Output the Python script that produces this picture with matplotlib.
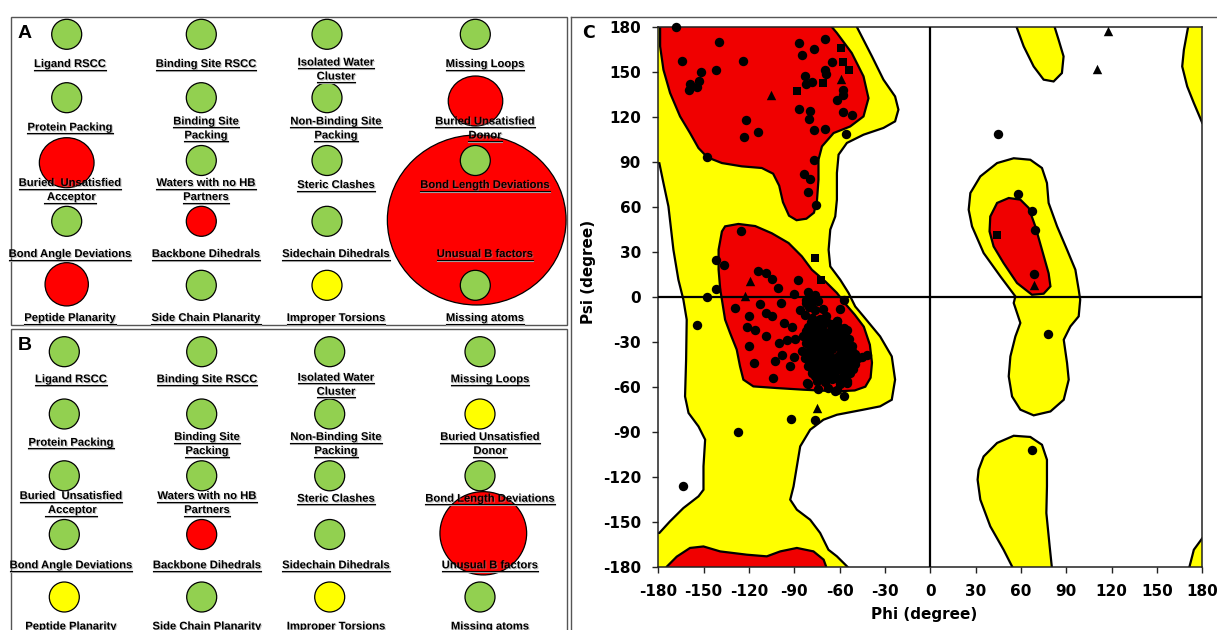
import matplotlib
matplotlib.use("Agg")
import numpy as np
import matplotlib.pyplot as plt
import matplotlib.patheffects as pe
from matplotlib.patches import Ellipse, Rectangle, Polygon

# ---------------------------------------------------------------------------
# Data: panels A and B (validation report traffic lights)
# ---------------------------------------------------------------------------
metric_labels = [
    ["Ligand RSCC", "Binding Site RSCC", "Isolated Water\nCluster", "Missing Loops"],
    ["Protein Packing", "Binding Site\nPacking", "Non-Binding Site\nPacking", "Buried Unsatisfied\nDonor"],
    ["Buried  Unsatisfied\n Acceptor", "Waters with no HB\nPartners", "Steric Clashes", "Bond Length Deviations"],
    ["Bond Angle Deviations", "Backbone Dihedrals", "Sidechain Dihedrals", "Unusual B factors"],
    ["Peptide Planarity", "Side Chain Planarity", "Improper Torsions", "Missing atoms"],
]
status_a = [
    ["g", "g", "g", "g"],
    ["g", "g", "g", "r"],
    ["r", "g", "g", "g"],
    ["g", "r", "g", "r"],
    ["r", "g", "y", "g"],
]
status_b = [
    ["g", "g", "g", "g"],
    ["g", "g", "g", "y"],
    ["g", "g", "g", "g"],
    ["g", "r", "g", "r"],
    ["y", "g", "y", "g"],
]
# enlarged markers: (row, col) -> (width, height) in px
big_a = {(1, 3): (54.5, 50.0), (2, 0): (54.7, 50.0), (3, 3): (178.7, 170.0), (4, 0): (43.3, 43.3)}
big_b = {(3, 3): (86.7, 83.3)}

# ---------------------------------------------------------------------------
# Data: panel C (Ramachandran plot), (phi, psi) in degrees
# ---------------------------------------------------------------------------
allowed_main = [
    (-182, 182), (-49.7, 182), (-38.6, 160.2), (-31, 144.7), (-23.3, 133.5), (-21.1, 124.7),
    (-23.3, 116.9), (-31, 112.5), (-44.2, 108), (-55.2, 102.5), (-60.7, 94.7), (-61.8, 82.5),
    (-61.8, 64.7), (-62.9, 53.5), (-66.2, 44.7), (-67.3, 31.3), (-66.2, 20.2), (-59.6, 11.3),
    (-54.1, 2.5), (-49.7, -6.5), (-44.2, -13.1), (-33.2, -26.5), (-25.5, -39.8), (-23.3, -55.3),
    (-25.5, -68.7), (-33.2, -73.1), (-44.2, -75.3), (-61.8, -78.7), (-70.7, -82), (-79.5, -88.7),
    (-86.1, -99.8), (-88.3, -113.1), (-90.5, -126.5), (-92.7, -135.3), (-88.3, -142), (-79.5, -148.7),
    (-72.9, -157.5), (-67.4, -168.7), (-61.8, -173.1), (-52.9, -182), (-182, -182), (-182, -157.5),
    (-179.3, -157.5), (-172.3, -149.8), (-163.4, -140.9), (-153.4, -133.1), (-150.1, -128.7),
    (-150.1, -113.1), (-149, -95.3), (-153.4, -86.5), (-160, -77.5), (-162.3, -66.5), (-161.6, -42),
    (-161.2, -15.3), (-163.4, -2), (-166.7, 11.3), (-170, 31.3), (-173.3, 60.2), (-176.6, 75.8),
    (-179.3, 89), (-182, 89),
]
allowed_left_alpha = [
    (26.5, 69.1), (33.1, 80.2), (44.2, 89.1), (55.2, 92.3), (66.2, 91.3), (73.9, 85.8), (77.2, 75.8),
    (78.3, 62.5), (83.9, 46.9), (90.5, 31.3), (96, 18), (98.2, 4.7), (99.2, -2), (98.2, -13.1),
    (92.7, -19.8), (88.3, -28.7), (90.5, -44.2), (91.6, -55.3), (88.3, -68.7), (79.5, -76.5),
    (68.4, -79.1), (59.6, -75.3), (54.1, -66.5), (51.9, -53.1), (53, -39.8), (56.3, -26.5),
    (59.6, -17.5), (55.2, -4.2), (56.3, 0.2), (46.4, 13.5), (35.3, 29.1), (27.6, 46.9), (25.4, 58),
]
allowed_top_mid = [
    (56.3, 182), (61.8, 166.9), (68.4, 153.5), (75, 144.7), (81.6, 143.5), (87.1, 149.1),
    (88.2, 160.2), (84.9, 171.3), (81.6, 182),
]
allowed_bottom_mid = [
    (31.3, -122), (32, -115.3), (35.3, -106.5), (44.2, -97.5), (55.2, -92.7), (66.2, -93.5),
    (73.9, -98.7), (77.2, -108.7), (77.2, -126.5), (76.8, -144.2), (79, -166.5), (80.6, -182),
    (55.2, -182), (48.5, -168.7), (39.7, -153.1), (33.1, -135.3),
]
allowed_right_top = [
    (171, 182), (167.8, 164.5), (166.7, 153.5), (170, 140.2), (174.4, 129.1), (180, 115.8),
    (182, 115.8), (182, 182),
]
allowed_right_bottom = [(171, -182), (174.4, -168.7), (180, -161), (182, -161), (182, -182)]

favoured_beta = [
    (-178.8, 182), (-67, 182), (-61.8, 175.8), (-52, 162.5), (-44.2, 146.9), (-40.9, 132.3),
    (-44.2, 120.2), (-53, 113.5), (-64, 109.1), (-71.7, 100.2), (-74, 91.3), (-74, 78), (-75, 64),
    (-77, 56), (-82, 52), (-88.5, 51), (-93.5, 54), (-97.5, 63), (-100, 74), (-104, 82),
    (-111.5, 85.8), (-124.7, 86.9), (-137.9, 89.1), (-147.5, 92.9), (-153.4, 99.1), (-159, 109.1),
    (-165.6, 120.2), (-172.2, 135.8), (-176.6, 151.3), (-178.8, 166.9),
]
favoured_alpha = [
    (-135.8, 46.9), (-127, 48.5), (-115.9, 47.1), (-104.9, 42.3), (-93.8, 35.8), (-85, 26.9),
    (-78.4, 18), (-69.5, 10.2), (-61.8, 2.5), (-56, -5), (-50, -12), (-44, -20), (-40, -32),
    (-38.6, -44), (-39.5, -54), (-43, -60), (-50, -62.5), (-61.8, -63.1), (-84, -62),
    (-101.6, -60.9), (-117.1, -59.8), (-123.7, -55.3), (-125.9, -46.5), (-128.1, -35.3),
    (-132.5, -24.2), (-135.8, -15.3), (-137.9, -2), (-139, 4.7), (-140.1, 18), (-140.1, 31.3),
    (-137.9, 43.5),
]
favoured_bottom = [
    (-175, -182), (-174.4, -180), (-167.8, -173.3), (-159, -167.5), (-150.1, -166.5),
    (-139.1, -169.8), (-121.4, -172), (-108.2, -173.1), (-99.3, -169.8), (-88.3, -167.5),
    (-77.3, -169.8), (-70.6, -175.3), (-68.9, -180), (-68.5, -182),
]
favoured_left_alpha = [
    (39.7, 53.5), (44.2, 62.5), (51.9, 65.8), (59.6, 64.7), (65.1, 59.2), (69.5, 46.9), (73.9, 31.3),
    (78.3, 15.6), (79.5, 6.9), (75, 2), (67.3, 1.3), (57.4, 9.1), (48.5, 22.4), (41.9, 33.5),
    (39.2, 43.5),
]

residues_circle = [
    # beta region
    (-168, 180), (-140, 170), (-164, 157), (-124, 157), (-152, 150), (-142, 151), (-159, 142),
    (-153, 143.5), (-154.5, 139.5), (-160, 138), (-87, 169), (-70, 172), (-77, 165), (-85, 161),
    (-65, 156.5), (-69.5, 151), (-69, 148.5), (-83, 147), (-78, 143), (-82, 142), (-57.5, 138),
    (-57.5, 134.5), (-61.5, 131), (-87, 125), (-79.5, 123.5), (-80, 118.5), (-58, 123), (-52, 121),
    (-77, 111), (-70, 112), (-56, 108.5), (-122, 117.5), (-114, 110), (-123, 106.5), (-147.5, 93),
    (-77, 91), (-83.5, 82), (-79.5, 78.5), (-81, 70), (-75.5, 61),
    # alpha region, scattered
    (-125.5, 44), (-142, 24.5), (-136.5, 21), (-114, 17), (-108.5, 16), (-105, 12), (-87.5, 11),
    (-101, 6), (-141.5, 5), (-147.5, 0), (-90.5, 2), (-81, 3), (-76, 1.3), (-57, -2), (-129, -7.5),
    (-112.5, -5), (-99, -4), (-109, -11), (-105, -12.7), (-120, -12.7), (-121.5, -20), (-116, -22),
    (-109, -26), (-97, -17.5), (-91.5, -20), (-120, -33), (-116.5, -44), (-104, -54), (-100, -31),
    (-95, -28.7), (-89.5, -28), (-102.5, -43), (-98, -38.7), (-90.5, -40), (-85, -36.5),
    (-92.7, -46.5), (-81.7, -57.5), (-74, -61.5), (-63, -63), (-57.4, -66.5), (-55, -57.5),
    (-45, -40), (-42, -38.7), (-52, -36.5), (-59.6, -8), (-62, -16.5), (-55, -22), (-57.4, -27.5),
    (-86, -8.7), (-82, -4), (-77, -3), (-154.5, -18.7), (-127, -90), (-163.4, -126), (-92, -81.3),
    (-76.6, -82), (-81, -58),
    # alpha region, dense core
    (-82, -2), (-78, -1), (-74, -3), (-80, -7), (-76, -9), (-71, -8), (-83, -12), (-78, -14),
    (-73, -15), (-69, -13), (-66, -18), (-62, -16),
    (-81, -20), (-76, -21), (-71, -19), (-66, -22), (-61, -20), (-56, -23),
    (-84, -26), (-79, -25), (-74, -27), (-69, -25), (-64, -27), (-59, -26), (-54, -28),
    (-82, -31), (-77, -30), (-72, -32), (-67, -30), (-62, -33), (-57, -31), (-52, -33),
    (-80, -36), (-75, -35), (-70, -37), (-65, -35), (-60, -38), (-55, -36), (-50, -38),
    (-83, -41), (-78, -40), (-73, -42), (-68, -40), (-63, -43), (-58, -41), (-53, -43), (-48, -41),
    (-81, -46), (-76, -45), (-71, -47), (-66, -45), (-61, -48), (-56, -46), (-51, -48),
    (-78, -51), (-73, -50), (-68, -52), (-63, -50), (-58, -53), (-53, -51),
    (-75, -56), (-70, -57), (-65, -55), (-60, -58), (-55, -56), (-68, -61), (-62, -62),
    (-79, -17), (-74, -18), (-69, -16), (-64, -20),
    (-82, -23), (-77, -24), (-72, -22), (-67, -24), (-62, -23), (-57, -21),
    (-80, -28), (-75, -29), (-70, -28), (-65, -29), (-60, -29), (-55, -31),
    (-79, -33), (-74, -34), (-69, -33), (-64, -32), (-59, -34), (-54, -33),
    (-82, -38), (-77, -38), (-72, -39), (-67, -38), (-62, -40), (-57, -39), (-52, -40),
    (-80, -43), (-75, -43), (-70, -44), (-65, -42), (-60, -44), (-55, -43), (-50, -45),
    (-78, -48), (-73, -48), (-68, -48), (-63, -46), (-58, -48), (-54, -47),
    (-76, -53), (-71, -54), (-66, -53), (-61, -55), (-56, -52),
    # positive phi
    (44.8, 108.5), (57.8, 68.5), (67.3, 57.3), (69.5, 44.7), (68.4, 15), (77.7, -25), (67.3, -102.5),
]
residues_square = [
    (-59, 166), (-58, 156.5), (-54, 151), (-71, 142.5), (-88.3, 137.3), (-76.2, 25.8),
    (-72.4, 11), (44.2, 41.3),
]
residues_triangle = [
    (-105.3, 134.7), (-59, 145.3), (-119, 10.2), (-122.5, 0.7), (-75, -74.2), (117.4, 177),
    (110.4, 151.8), (68.9, 7.5),
]
angle_ticks = list(range(-180, 181, 30))

# ---------------------------------------------------------------------------
# Layout (pixels of the 1217 x 630 canvas)
# ---------------------------------------------------------------------------
W, H = 1217, 630
COLORS = {"g": "#92D050", "r": "#FF0000", "y": "#FFFF00"}

panels = [
    dict(status=status_a, big=big_a, letter="A", letter_xy=(25, 33),
         col_x=[66.7, 201.3, 327.0, 475.3], row_y=[34.3, 97.7, 160.5, 221.3, 285.3],
         big_xy={(1, 3): (475.5, 101.0), (2, 0): (66.7, 162.7), (3, 3): (476.7, 220.0),
                 (4, 0): (66.7, 284.3)},
         lab_x=[70, 206, 336, 485], single=[67, 130.5, 188, 257, 321],
         double=[65.5, 124.5, 186, 257, 321]),
    dict(status=status_b, big=big_b, letter="B", letter_xy=(24.5, 345.5),
         col_x=[64.3, 201.7, 329.7, 480.0], row_y=[351.7, 414.0, 475.8, 534.5, 597.0],
         big_xy={(3, 3): (483.3, 533.3)},
         lab_x=[71, 207, 336, 490], single=[382.3, 445.7, 501.7, 568.3, 629.5],
         double=[380.7, 440.0, 499.0, 568.3, 629.5]),
]

fig = plt.figure(figsize=(W / 100, H / 100), dpi=100)
bg = fig.add_axes([0, 0, 1, 1])
bg.set_xlim(0, W)
bg.set_ylim(H, 0)
bg.axis("off")

# panel frames
bg.add_patch(Rectangle((10.5, 16.5), 556.5, 308.5, fill=False, ec="#555555", lw=1.0, zorder=0))
bg.add_patch(Rectangle((10.5, 328.5), 556.5, 320, fill=False, ec="#555555", lw=1.0, zorder=0))
bg.plot([570.5, 570.5], [16.5, H + 5], color="#555555", lw=1.0)
bg.plot([570.5, W + 5], [16.5, 16.5], color="#555555", lw=1.0)

text_fx = [pe.SimplePatchShadow(offset=(0.8, -0.8), shadow_rgbFace="0.55", alpha=0.5), pe.Normal()]
label_items = []

for p in panels:
    for r, row in enumerate(metric_labels):
        for c, lab in enumerate(row):
            key = (r, c)
            if key in p["big"]:
                w, h = p["big"][key]
                cx, cy = p["big_xy"][key]
                z = 1 if w > 100 else 2
            else:
                w = h = 30.0
                cx, cy = p["col_x"][c], p["row_y"][r]
                z = 3
            bg.add_patch(Ellipse((cx, cy), w, h, fc=COLORS[p["status"][r][c]],
                                 ec="black", lw=0.9, zorder=z))
            lines = lab.split("\n")
            base = p["single"][r] if len(lines) == 1 else p["double"][r]
            for k, ln in enumerate(lines):
                yb = base + 14 * k
                t = bg.text(p["lab_x"][c], yb, ln, ha="center", va="baseline",
                            fontsize=8.1, fontweight="bold", family="Liberation Sans",
                            zorder=6, path_effects=text_fx)
                label_items.append((t, yb))
    bg.text(p["letter_xy"][0], p["letter_xy"][1], p["letter"], ha="center", va="center",
            fontsize=14, fontweight="bold", family="Liberation Sans", zorder=7)

# ---------------------------------------------------------------------------
# Panel C
# ---------------------------------------------------------------------------
x0, x1, y0, y1 = 658.3, 1202.3, 26.7, 566.7
ax = fig.add_axes([x0 / W, 1 - y1 / H, (x1 - x0) / W, (y1 - y0) / H])
ax.set_xlim(-180, 180)
ax.set_ylim(-180, 180)

for poly in [allowed_main, allowed_left_alpha, allowed_top_mid, allowed_bottom_mid,
             allowed_right_top, allowed_right_bottom]:
    ax.add_patch(Polygon(poly, closed=True, fc="#FFFF00", ec="black", lw=1.6, zorder=1))
for poly in [favoured_beta, favoured_alpha, favoured_bottom, favoured_left_alpha]:
    ax.add_patch(Polygon(poly, closed=True, fc="#F00000", ec="black", lw=1.6, zorder=2))

ax.axhline(0, color="black", lw=1.6, zorder=3)
ax.axvline(0, color="black", lw=1.6, zorder=3)

circ = np.array(residues_circle)
sq = np.array(residues_square)
tri = np.array(residues_triangle)
ax.scatter(circ[:, 0], circ[:, 1], s=46, marker="o", color="black", lw=0, zorder=4, clip_on=False)
ax.scatter(sq[:, 0], sq[:, 1], s=36, marker="s", color="black", lw=0, zorder=4, clip_on=False)
ax.scatter(tri[:, 0], tri[:, 1], s=46, marker="^", color="black", lw=0, zorder=4, clip_on=False)

ax.set_xticks(angle_ticks)
ax.set_yticks(angle_ticks)
ax.set_xticklabels([str(v) for v in angle_ticks], fontsize=11, fontweight="bold")
ax.set_yticklabels([str(v) for v in angle_ticks], fontsize=11, fontweight="bold")
ax.tick_params(axis="both", direction="out", length=4.5, width=1.0, color="#222222")
ax.tick_params(axis="x", pad=8)
ax.tick_params(axis="y", pad=8)
for sp in ax.spines.values():
    sp.set_color("#222222")
    sp.set_linewidth(1.1)

ax.set_xlabel("Phi (degree)", fontsize=11, fontweight="bold")
ax.set_ylabel("Psi (degree)", fontsize=11, fontweight="bold")
ax.xaxis.set_label_coords(0.489, -0.089)
ax.yaxis.set_label_coords(-0.129, 0.545)
ax.xaxis.label.set_va("center")
ax.yaxis.label.set_va("center")

bg.text(588.3, 33, "C", ha="center", va="center", fontsize=12.5, fontweight="bold", zorder=7)

# underline the metric labels (drawn after layout so the text widths are known)
fig.canvas.draw()
rend = fig.canvas.get_renderer()
for t, yb in label_items:
    bb = t.get_window_extent(rend)
    bg.plot([bb.x0, bb.x1], [yb + 3.5, yb + 3.5], color="0.65", lw=0.8, zorder=5)
    bg.plot([bb.x0, bb.x1], [yb + 2.5, yb + 2.5], color="black", lw=0.8, zorder=6)

fig.savefig("out.png", dpi=100)
